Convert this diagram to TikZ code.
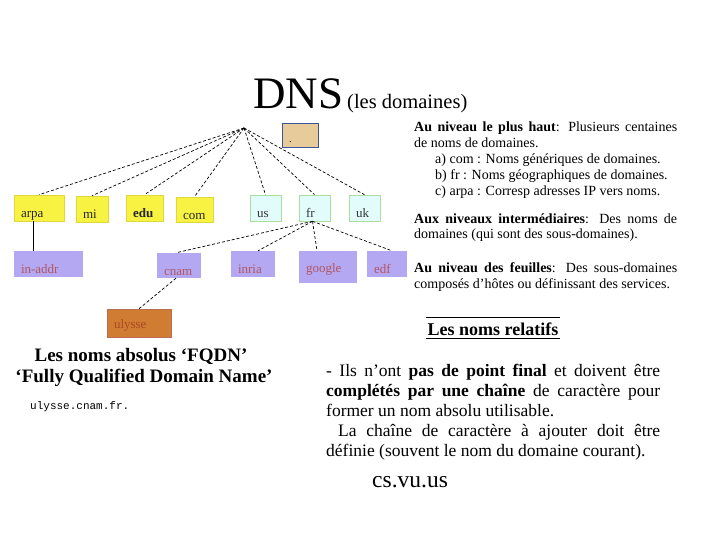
\documentclass[tikz,border=0pt]{standalone}
\usepackage{fontspec}
\setmainfont{Liberation Serif}
\newfontfamily\monof{Liberation Mono}
\definecolor{ylw}{RGB}{248,243,66}
\definecolor{ylwb}{RGB}{222,216,60}
\definecolor{cyn}{RGB}{226,252,252}
\definecolor{cynb}{RGB}{170,222,155}
\definecolor{prp}{RGB}{180,168,242}
\definecolor{prpt}{RGB}{178,84,96}
\definecolor{org}{RGB}{208,124,50}
\definecolor{orgt}{RGB}{168,74,40}
\definecolor{tanf}{RGB}{232,203,155}
\definecolor{tanb}{RGB}{60,85,150}
\begin{document}
\begin{tikzpicture}[x=1pt,y=-1pt,
 bx/.style={inner xsep=7pt, inner ysep=0pt, text height=19pt, text depth=0pt,
   align=left, font=\fontsize{13}{15}\selectfont, minimum height=26pt},
 yb/.style={bx, fill=ylw, draw=ylwb, line width=0.6pt, text=black!85},
 cb/.style={bx, fill=cyn, draw=cynb, line width=0.6pt, text=black!80},
 pb/.style={bx, fill=prp, text=prpt},
 dl/.style={densely dashed, line width=0.7pt},
 sl/.style={line width=0.7pt},
 txt/.style={inner sep=0pt, anchor=base west},
]
\useasboundingbox (0,0) rectangle (720,540);

% title
\node[txt, font=\fontsize{45}{45}\selectfont] (dns) at (253,109) {DNS};
\node[txt, font=\fontsize{20.5}{20.5}\selectfont] (sub) at (347,109) {(les domaines)};

% root
\coordinate (root) at (244,128);
\node[bx, fill=tanf, draw=tanb, line width=0.8pt, text width=22pt, minimum height=24pt,
  text height=16pt, font=\fontsize{10}{10}\selectfont] (tanbox) at (300,135) {.};

% top level
\node[yb, text width=36pt] (arpa) at (39,208) {arpa};
\node[yb, text width=18pt] (mi) at (92,209) {mi};
\node[yb, text width=23pt] (edu) at (144.5,208) {\textbf{edu}};
\node[yb, text width=23pt, minimum height=25pt] (com) at (194.5,209.5) {com};
\node[cb, text width=17pt] (us) at (265.5,208) {us};
\node[cb, text width=17pt] (fr) at (314.5,208) {fr};
\node[cb, text width=17pt] (uk) at (364.5,208) {uk};

% second level
\node[pb, text width=55pt] (inaddr) at (48.5,264) {in-addr};
\node[pb, text width=30pt, minimum height=25pt] (cnam) at (179,265.5) {cnam};
\node[pb, text width=30pt] (inria) at (253,264) {inria};
\node[pb, text width=44pt, minimum height=32pt, text height=10pt] (google) at (328,267) {google};
\node[pb, text width=26pt] (edf) at (387,264) {edf};
\node[bx, fill=org, draw=orgt!80, line width=0.5pt, text=orgt, text width=50pt,
  minimum height=28pt, text height=10pt] (ulysse) at (139,323) {ulysse};

% connectors
\foreach \n in {arpa,mi,edu,com,us,fr,uk} \draw[dl] (root) -- (\n.north);
\draw[sl] ([xshift=-6pt]arpa.south) -- ([xshift=-6pt]arpa.south |- inaddr.north);
\draw[dl] ([xshift=-2pt]fr.south) -- ([xshift=-3pt]cnam.north);
\draw[dl] ([xshift=-2pt]fr.south) -- ([xshift=5pt]inria.north);
\draw[dl] ([xshift=-2pt]fr.south) -- ([xshift=-11pt]google.north);
\draw[dl] ([xshift=-2pt]fr.south) -- ([xshift=5pt]edf.north);
\draw[dl] ([xshift=-3pt]cnam.south) -- (ulysse.north);

% right column
\node[txt, font=\fontsize{14}{16}\selectfont] (p1) at (414,132) {\parbox[t]{263pt}{\baselineskip=16pt
\hbox to 263pt{\textbf{Au niveau le plus haut}: Plusieurs centaines}
\hbox{de noms de domaines.}
\hbox{\kern21pt a) com : Noms génériques de domaines.}
\hbox{\kern21pt b) fr : Noms géographiques de domaines.}
\hbox{\kern21pt c) arpa : Corresp adresses IP vers noms.}}};
\node[txt, font=\fontsize{14}{16}\selectfont] (p2) at (414,223) {\parbox[t]{263pt}{\baselineskip=16pt
\hbox to 263pt{\textbf{Aux niveaux intermédiaires}: Des noms de}
\hbox{domaines (qui sont des sous-domaines).}}};
\node[txt, font=\fontsize{14}{16}\selectfont] (p3) at (414,272) {\parbox[t]{263pt}{\baselineskip=16pt
\hbox to 263pt{\textbf{Au niveau des feuilles}: Des sous-domaines}
\hbox{composés d’hôtes ou définissant des services.}}};

% absolute names
\node[inner sep=0pt, anchor=base, font=\bfseries\fontsize{19}{21}\selectfont] (fq1) at (141,361) {Les noms absolus ‘FQDN’};
\node[inner sep=0pt, anchor=base, font=\bfseries\fontsize{19}{21}\selectfont] (fq2) at (144,382) {‘Fully Qualified Domain Name’};
\node[txt, font=\monof\fontsize{11}{11}\selectfont] (abs) at (30,409) {ulysse.cnam.fr.};

% relative names
\node[anchor=base, inner xsep=1.5pt, inner ysep=0pt, font=\bfseries\fontsize{18}{18}\selectfont] (rel) at (493,335) {Les noms relatifs};
\draw[line width=0.8pt] ([yshift=18pt]rel.base west) -- ([yshift=18pt]rel.base east);
\draw[line width=0.8pt] ([yshift=-3pt]rel.base west) -- ([yshift=-3pt]rel.base east);

\node[txt, font=\fontsize{17.5}{20}\selectfont] (p4) at (326,376) {\parbox[t]{334pt}{\baselineskip=20pt
\hbox to 334pt{- Ils n’ont \textbf{pas de point final} et doivent être}
\hbox to 334pt{\textbf{complétés par une chaîne} de caractère pour}
\hbox{former un nom absolu utilisable.}
\hbox to 334pt{\kern12pt La chaîne de caractère à ajouter doit être}
\hbox{définie (souvent le nom du domaine courant).}}};

\node[txt, font=\fontsize{23.5}{23.5}\selectfont] (csvu) at (372,487) {cs.vu.us};
\end{tikzpicture}
\end{document}
